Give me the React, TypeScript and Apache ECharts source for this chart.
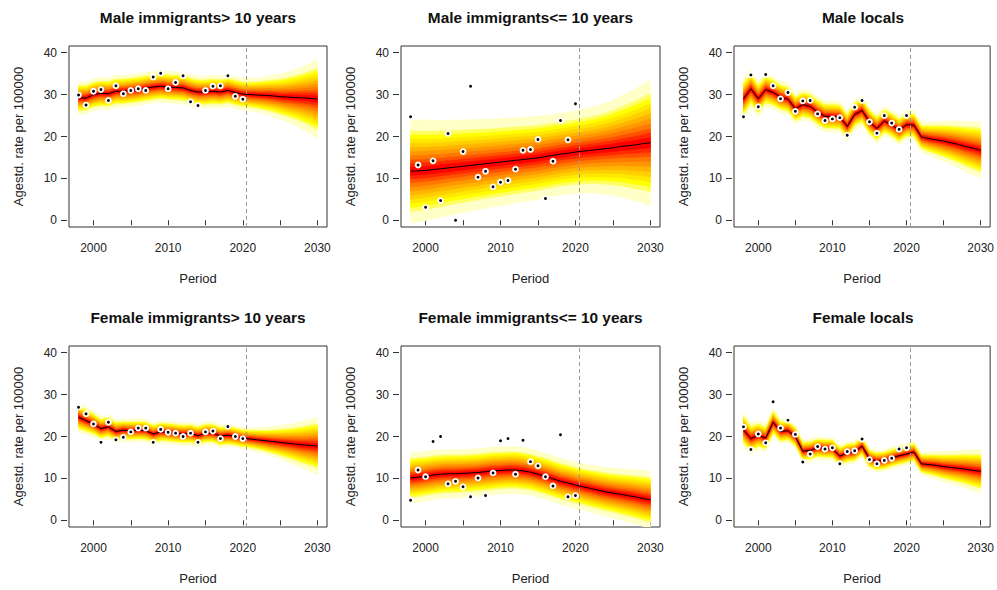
import React, { useEffect, useRef } from "react";
import * as echarts from "echarts";

const YEARS = [1998, 1999, 2000, 2001, 2002, 2003, 2004, 2005, 2006, 2007, 2008, 2009, 2010, 2011, 2012, 2013, 2014, 2015, 2016, 2017, 2018, 2019, 2020, 2021, 2022, 2023, 2024, 2025, 2026, 2027, 2028, 2029, 2030];
const OBS_YEARS = [1998, 1999, 2000, 2001, 2002, 2003, 2004, 2005, 2006, 2007, 2008, 2009, 2010, 2011, 2012, 2013, 2014, 2015, 2016, 2017, 2018, 2019, 2020];

const X_TICKS = [2000, 2005, 2010, 2015, 2020, 2025, 2030];
const X_LABELS = [2000, 2010, 2020, 2030];
const Y_TICKS = [0, 10, 20, 30, 40];
const FORECAST_START = 2020.5;

const TITLES = [
  "Male immigrants> 10 years",
  "Male immigrants<= 10 years",
  "Male locals",
  "Female immigrants> 10 years",
  "Female immigrants<= 10 years",
  "Female locals",
];

// Male immigrants > 10 years
const P1_OBS = [29.9, 27.5, 30.8, 31.2, 28.6, 32.1, 30.2, 31.0, 31.4, 31.0, 34.2, 35.1, 31.4, 32.9, 34.5, 28.3, 27.4, 31.0, 32.0, 32.1, 34.5, 29.6, 28.9];
const P1_MEDIAN = [29.2, 29.2, 30.0, 30.3, 30.2, 30.8, 30.8, 31.0, 31.2, 31.5, 31.8, 32.0, 31.8, 31.7, 31.6, 31.0, 30.6, 30.6, 30.8, 30.6, 31.0, 30.5, 30.1, 30.0, 29.9, 29.8, 29.7, 29.5, 29.4, 29.3, 29.2, 29.1, 28.9];
const P1_HALF = [3.9, 3.8, 3.8, 3.8, 3.8, 3.8, 3.8, 3.8, 3.8, 3.8, 3.8, 3.8, 3.8, 3.8, 3.8, 3.8, 3.8, 3.8, 3.8, 3.8, 3.8, 3.8, 3.8, 3.9, 4.1, 4.5, 4.9, 5.4, 6.0, 6.7, 7.5, 8.4, 9.5];

// Male immigrants <= 10 years
const P2_OBS = [24.7, 13.2, 3.1, 14.2, 4.7, 20.7, 0.0, 16.4, 32.0, 10.3, 11.7, 8.0, 9.1, 9.5, 12.2, 16.7, 16.9, 19.3, 5.2, 14.1, 23.8, 19.2, 27.8];
const P2_MEDIAN = [11.7, 11.8, 11.9, 12.1, 12.3, 12.5, 12.7, 12.9, 13.1, 13.3, 13.5, 13.7, 13.9, 14.1, 14.3, 14.5, 14.7, 14.9, 15.2, 15.5, 15.8, 16.0, 16.3, 16.5, 16.7, 16.9, 17.1, 17.3, 17.6, 17.8, 18.0, 18.3, 18.5];
const P2_HALF = [12.4, 12.2, 12.0, 11.8, 11.6, 11.4, 11.2, 11.1, 10.9, 10.8, 10.6, 10.5, 10.4, 10.3, 10.2, 10.1, 10.0, 9.9, 9.9, 9.8, 9.8, 9.8, 9.9, 10.0, 10.2, 10.5, 10.9, 11.4, 12.0, 12.7, 13.4, 14.2, 15.1];

// Male locals
const P3_OBS = [24.7, 34.7, 27.1, 34.8, 32.1, 29.0, 30.5, 26.0, 28.5, 28.6, 25.4, 23.8, 24.2, 24.5, 20.3, 27.0, 28.6, 23.5, 20.8, 25.0, 23.2, 21.7, 25.0];
const P3_MEDIAN = [29.0, 31.4, 29.0, 31.2, 30.5, 29.4, 28.9, 26.6, 27.6, 27.2, 25.8, 24.8, 24.8, 24.7, 22.4, 25.3, 26.2, 23.5, 21.9, 23.7, 22.8, 21.5, 22.8, 22.7, 19.9, 19.5, 19.2, 18.9, 18.5, 18.1, 17.6, 17.2, 16.7];
const P3_HALF = [5.0, 4.6, 4.3, 4.1, 3.9, 3.8, 3.7, 3.7, 3.7, 3.7, 3.7, 3.7, 3.7, 3.7, 3.7, 3.6, 3.6, 3.6, 3.6, 3.5, 3.5, 3.5, 3.5, 3.5, 3.6, 4.0, 4.4, 4.8, 5.2, 5.6, 6.0, 6.4, 6.8];

// Female immigrants > 10 years
const P4_OBS = [27.0, 25.4, 23.0, 18.6, 23.4, 19.2, 19.8, 21.1, 22.0, 22.0, 18.6, 21.7, 21.0, 20.8, 20.0, 20.8, 18.6, 21.1, 21.3, 19.5, 22.4, 20.0, 19.5];
const P4_MEDIAN = [24.6, 23.8, 23.0, 21.9, 22.3, 21.2, 21.5, 21.4, 21.5, 21.4, 20.6, 21.1, 21.0, 20.8, 20.6, 20.7, 20.2, 20.8, 20.8, 20.1, 20.3, 20.0, 19.6, 19.4, 19.2, 19.0, 18.8, 18.6, 18.4, 18.2, 18.0, 17.9, 17.7];
const P4_HALF = [3.6, 3.3, 3.1, 2.9, 2.9, 2.8, 2.7, 2.7, 2.7, 2.7, 2.7, 2.7, 2.7, 2.7, 2.7, 2.7, 2.7, 2.7, 2.7, 2.7, 2.7, 2.6, 2.6, 2.7, 2.9, 3.2, 3.6, 4.0, 4.5, 5.0, 5.6, 6.2, 6.9];

// Female immigrants <= 10 years
const P5_OBS = [4.8, 12.0, 10.4, 18.8, 20.0, 8.7, 9.3, 8.0, 5.6, 10.1, 5.9, 11.3, 19.0, 19.5, 11.0, 19.1, 14.0, 13.0, 10.4, 8.2, 20.4, 5.6, 5.9];
const P5_MEDIAN = [10.1, 10.3, 10.5, 10.8, 11.0, 11.1, 11.1, 11.2, 11.3, 11.4, 11.6, 11.8, 11.9, 12.0, 12.0, 11.8, 11.5, 11.0, 10.5, 9.9, 9.3, 8.9, 8.4, 8.0, 7.6, 7.2, 6.8, 6.5, 6.2, 5.9, 5.6, 5.2, 4.9];
const P5_HALF = [6.0, 6.0, 5.9, 5.9, 5.8, 5.8, 5.8, 5.7, 5.7, 5.7, 5.7, 5.7, 5.6, 5.6, 5.6, 5.6, 5.5, 5.5, 5.5, 5.5, 5.5, 5.5, 5.5, 5.5, 5.6, 5.7, 5.8, 5.9, 6.1, 6.3, 6.5, 6.7, 6.9];

// Female locals
const P6_OBS = [22.3, 16.9, 20.6, 18.5, 28.3, 22.0, 23.9, 20.5, 13.9, 15.8, 17.6, 17.0, 17.3, 13.5, 16.4, 16.6, 19.4, 14.5, 13.5, 14.3, 14.8, 17.0, 17.3];
const P6_MEDIAN = [21.6, 19.5, 20.3, 19.6, 23.4, 21.2, 21.4, 20.0, 16.5, 16.7, 17.3, 17.1, 17.1, 15.3, 16.1, 16.3, 17.7, 14.7, 14.1, 14.3, 14.9, 15.4, 15.8, 16.3, 13.5, 13.3, 13.1, 12.8, 12.6, 12.4, 12.2, 11.9, 11.7];
const P6_HALF = [4.2, 3.8, 3.5, 3.3, 3.4, 3.0, 2.9, 2.8, 2.7, 2.7, 2.7, 2.7, 2.7, 2.7, 2.7, 2.7, 2.6, 2.6, 2.6, 2.6, 2.6, 2.6, 2.6, 2.6, 2.7, 3.0, 3.3, 3.6, 3.9, 4.2, 4.6, 4.9, 5.3];

const OBS = [P1_OBS, P2_OBS, P3_OBS, P4_OBS, P5_OBS, P6_OBS];
const MEDIANS = [P1_MEDIAN, P2_MEDIAN, P3_MEDIAN, P4_MEDIAN, P5_MEDIAN, P6_MEDIAN];
const HALFS = [P1_HALF, P2_HALF, P3_HALF, P4_HALF, P5_HALF, P6_HALF];

// fan structure: fraction of the outer half-width for each nested interval (outer -> inner)
const BAND_FRACTIONS = [1, 0.78, 0.7, 0.62, 0.54, 0.46, 0.38, 0.3, 0.22, 0.15, 0.08];
const BAND_COLORS = ["#FFFFC8", "#FFFF60", "#FFFF00", "#FFE800", "#FFD000", "#FFB400", "#FF9800", "#FF7800", "#FF5200", "#FF2800", "#FF0000"];

const FONT = "Liberation Sans, Arial, Helvetica, sans-serif";
const GRID_LEFTS = [69, 401, 734];
const GRID_WIDTHS = [258, 259, 258];
const GRID_TOPS = [46, 346];
const GRID_HEIGHT = 181;
const TEXT_COLOR = "#222";
const AXIS_COLOR = "#333";

function buildOption() {
  const grids: any[] = [];
  const xAxes: any[] = [];
  const yAxes: any[] = [];
  const series: any[] = [];
  const graphics: any[] = [];

  for (let p = 0; p < 6; p++) {
    const col = p % 3;
    const row = Math.floor(p / 3);
    const left = GRID_LEFTS[col];
    const width = GRID_WIDTHS[col];
    const top = GRID_TOPS[row];
    grids.push({
      left,
      top,
      width,
      height: GRID_HEIGHT,
      show: true,
      borderColor: AXIS_COLOR,
      borderWidth: 1,
      backgroundColor: "transparent",
      containLabel: false,
    });
    xAxes.push({
      type: "value",
      gridIndex: p,
      min: 1996.72,
      max: 2031.28,
      offset: 1,
      axisLine: { show: false },
      splitLine: { show: false },
      axisTick: {
        show: true,
        length: 5,
        customValues: X_TICKS,
        lineStyle: { color: AXIS_COLOR, width: 1 },
      },
      axisLabel: {
        customValues: X_LABELS,
        formatter: (v: number) => String(v),
        margin: 14,
        fontSize: 12,
        fontFamily: FONT,
        color: TEXT_COLOR,
      },
      name: "Period",
      nameLocation: "middle",
      nameGap: 44,
      nameTextStyle: { fontSize: 13, fontFamily: FONT, color: TEXT_COLOR },
    });
    yAxes.push({
      type: "value",
      gridIndex: p,
      min: -1.6,
      max: 41.6,
      offset: 2,
      axisLine: { show: false },
      splitLine: { show: false },
      axisTick: {
        show: true,
        length: 6,
        customValues: Y_TICKS,
        lineStyle: { color: AXIS_COLOR, width: 1 },
      },
      axisLabel: {
        customValues: Y_TICKS,
        formatter: (v: number) => String(v),
        margin: 10,
        fontSize: 12,
        fontFamily: FONT,
        color: TEXT_COLOR,
      },
      name: "Agestd. rate per 100000",
      nameLocation: "middle",
      nameGap: 42,
      nameTextStyle: { fontSize: 13, fontFamily: FONT, color: TEXT_COLOR },
    });

    graphics.push({
      type: "text",
      x: left + width / 2,
      y: row === 0 ? 17 : 317.5,
      style: {
        text: TITLES[p],
        font: `bold 15.4px ${FONT}`,
        fill: "#111",
        textAlign: "center",
        textVerticalAlign: "middle",
      },
    });

    const median = MEDIANS[p];
    const half = HALFS[p];

    // one data item per nested interval (outer first), drawn as polygons through the axes' scales
    const bandData = BAND_FRACTIONS.map((f, k) => [YEARS[0], median[0], k]);
    series.push({
      type: "custom",
      xAxisIndex: p,
      yAxisIndex: p,
      silent: true,
      z: 1,
      clip: true,
      data: bandData,
      renderItem: (params: any, api: any) => {
        const k = api.value(2);
        const f = BAND_FRACTIONS[k];
        const upperPts = YEARS.map((y, i) => api.coord([y, median[i] + f * half[i]]));
        const lowerPts = YEARS.map((y, i) => api.coord([y, median[i] - f * half[i]])).reverse();
        const color = BAND_COLORS[k];
        return {
          type: "polygon",
          shape: { points: upperPts.concat(lowerPts) },
          style: { fill: color, stroke: color, lineWidth: 0.5 },
        };
      },
    });

    series.push({
      type: "line",
      xAxisIndex: p,
      yAxisIndex: p,
      data: YEARS.map((y, i) => [y, median[i]]),
      symbol: "none",
      silent: true,
      z: 3,
      lineStyle: { color: "#000", width: 1 },
      markLine: {
        silent: true,
        symbol: ["none", "none"],
        label: { show: false },
        lineStyle: { color: "#9a9a9a", width: 1, type: [4, 3] },
        data: [{ xAxis: FORECAST_START }],
      },
    });

    series.push({
      type: "scatter",
      xAxisIndex: p,
      yAxisIndex: p,
      data: OBS_YEARS.map((y, i) => [y, OBS[p][i]]),
      symbol: "circle",
      symbolSize: 4.8,
      silent: true,
      z: 4,
      itemStyle: { color: "#000", borderColor: "#fff", borderWidth: 1.9, opacity: 1 },
    });
  }

  return {
    animation: false,
    backgroundColor: "#fff",
    grid: grids,
    xAxis: xAxes,
    yAxis: yAxes,
    series,
    graphic: graphics,
  };
}

export default function App() {
  const ref = useRef<HTMLDivElement>(null);
  useEffect(() => {
    if (!ref.current) return;
    const chart = echarts.init(ref.current, null, { renderer: "svg" });
    chart.setOption(buildOption() as any);
    return () => chart.dispose();
  }, []);
  return <div ref={ref} style={{ width: 997, height: 590, position: "absolute", left: 0, top: 0 }} />;
}
